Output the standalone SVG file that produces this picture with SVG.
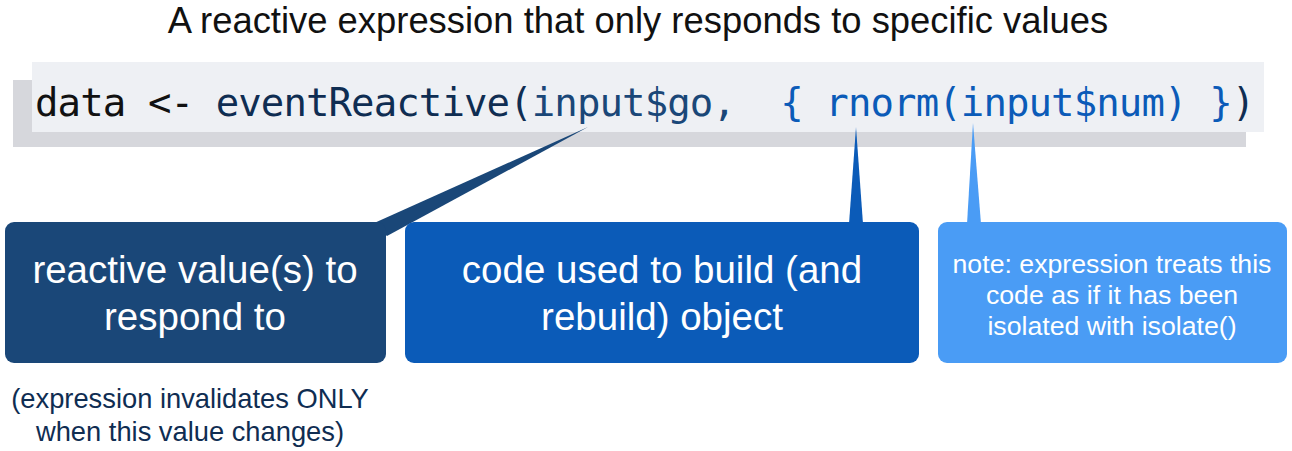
<svg xmlns="http://www.w3.org/2000/svg" width="1292" height="451" viewBox="0 0 1292 451">
<style>
.sans{font-family:"Liberation Sans",Arial,sans-serif}
.mono{font-family:"DejaVu Sans Mono","Liberation Mono",monospace}
.big{font-size:38.5px;fill:#ffffff;text-anchor:middle}
.small{font-size:26.7px;fill:#ffffff;text-anchor:middle}
</style>
<rect width="1292" height="451" fill="#ffffff"/>
<g id="title">
<text class="sans" x="638" y="33" font-size="36.4" fill="#111111" text-anchor="middle">A reactive expression that only responds to specific values</text>
</g>
<g id="code">
<rect x="13" y="80" width="1233" height="67" fill="#d6d7dc"/>
<rect x="32" y="62" width="1232" height="70" fill="#eef0f4"/>
<text class="mono" x="35" y="116" font-size="39" letter-spacing="-0.9" xml:space="preserve"><tspan fill="#111111">data &lt;- </tspan><tspan fill="#0f2d52">eventReactive(</tspan><tspan fill="#1a4778">input$go,</tspan><tspan fill="#0b5bb8">  { rnorm(input$num) }</tspan><tspan fill="#0f2d52">)</tspan></text>
</g>
<g id="connectors">
<polygon points="588,127 372,224 387,236" fill="#1a4778"/>
<polygon points="856,127 849,224 863,224" fill="#0b5bb8"/>
<polygon points="973,123 967,224 981,224" fill="#4a9cf5"/>
</g>
<g id="box-reactive">
<rect x="5" y="222" width="381" height="141" rx="9" fill="#1a4778"/>
<text class="sans big" x="195" y="283">reactive value(s) to</text>
<text class="sans big" x="195" y="330">respond to</text>
</g>
<g id="box-code">
<rect x="405" y="222" width="514" height="141" rx="9" fill="#0b5bb8"/>
<text class="sans big" x="662" y="283">code used to build (and</text>
<text class="sans big" x="662" y="330">rebuild) object</text>
</g>
<g id="box-note">
<rect x="938" y="222" width="349" height="141" rx="9" fill="#4a9cf5"/>
<text class="sans small" x="1112" y="273">note: expression treats this</text>
<text class="sans small" x="1112" y="304">code as if it has been</text>
<text class="sans small" x="1112" y="335">isolated with isolate()</text>
</g>
<g id="note-invalidates">
<text class="sans" x="190" y="408" font-size="27.3" fill="#0f2d52" text-anchor="middle">(expression invalidates ONLY</text>
<text class="sans" x="190" y="441" font-size="27.3" fill="#0f2d52" text-anchor="middle">when this value changes)</text>
</g>
</svg>
